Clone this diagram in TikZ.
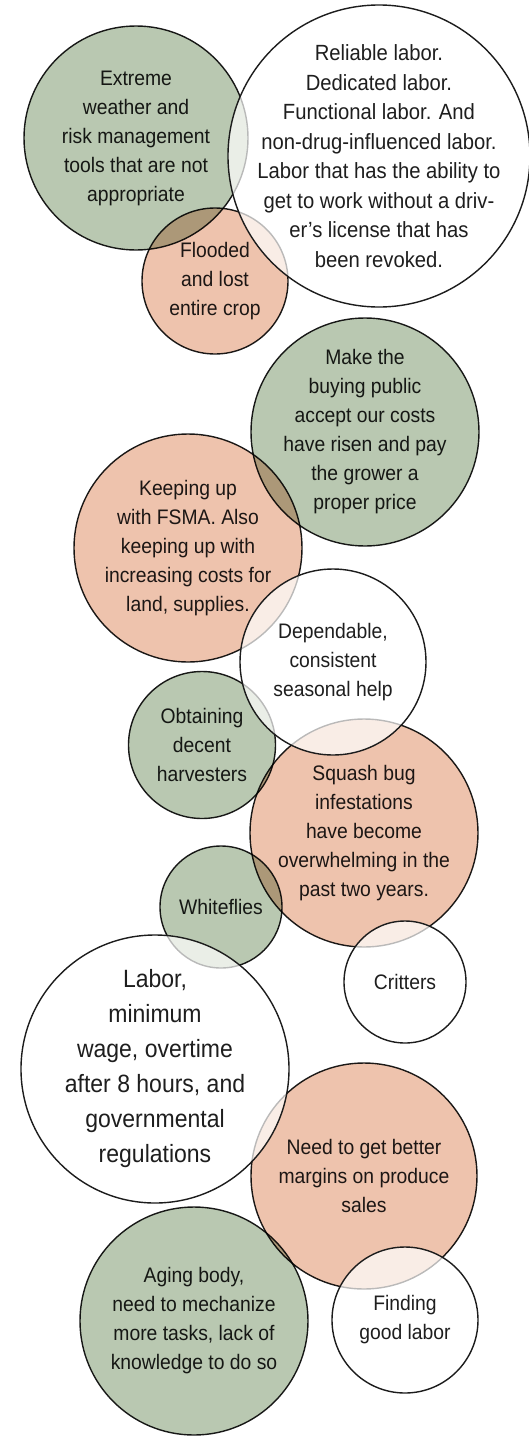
\documentclass[tikz,border=0pt]{standalone}
\usepackage{fontspec}
\setmainfont{Liberation Sans}[FakeStretch=0.92]
\usepackage{tikz}
\usetikzlibrary{positioning}
\definecolor{BubGreen}{HTML}{B9C8B1}
\definecolor{BubPeach}{HTML}{EEC3AD}
\definecolor{BubLine}{HTML}{1C1C1C}
\definecolor{BubText}{HTML}{1E1E1E}
\tikzset{
  bubble/.style={circle,draw=BubLine,line width=1.4pt,inner sep=0pt,minimum size=#1},
  greenbub/.style={bubble=#1,fill=BubGreen},
  peachbub/.style={bubble=#1,fill=BubPeach},
  whitebub/.style={bubble=#1,fill=white,fill opacity=0.7},
  bubtext/.style={align=center,text=BubText,inner sep=0pt,font=\fontsize{21}{29}\selectfont},
  midtext/.style={bubtext,font=\fontsize{22}{29.5}\selectfont},
  bigtext/.style={bubtext,font=\fontsize{25}{35}\selectfont}
}

\begin{document}
\begin{tikzpicture}[x=1pt,y=-1pt]
\useasboundingbox (0,0) rectangle (529,1440);

% coloured bubbles, overlaps darken
\begin{scope}[blend mode=multiply]
\node[greenbub=224pt,label={[bubtext]center:{Extreme\\weather and\\risk management\\tools that are not\\appropriate}}] (weather) at (136,138) {};
\node[peachbub=146pt,label={[bubtext]center:{Flooded\\and lost\\entire crop}}] (flood) at (215,281) {};
\node[greenbub=228pt,label={[bubtext]center:{Make the\\buying public\\accept our costs\\have risen and pay\\the grower a\\proper price}}] (public) at (365,432) {};
\node[peachbub=228pt,label={[bubtext]center:{Keeping up\\with FSMA. Also\\keeping up with\\increasing costs for\\land, supplies.}}] (fsma) at (188,548) {};
\node[greenbub=147pt,label={[bubtext]center:{Obtaining\\decent\\harvesters}}] (harvest) at (202,745) {};
\node[peachbub=228pt,label={[bubtext]center:{Squash bug\\infestations\\have become\\overwhelming in the\\past two years.}}] (squash) at (364,833) {};
\node[greenbub=122pt,label={[bubtext]center:{Whiteflies}}] (flies) at (221,907) {};
\node[peachbub=226pt,label={[bubtext]center:{Need to get better\\margins on produce\\sales}}] (margin) at (364,1176) {};
\node[greenbub=228pt,label={[bubtext]center:{Aging body,\\need to mechanize\\more tasks, lack of\\knowledge to do so}}] (aging) at (194,1321) {};
\end{scope}

% white bubbles on top
\node[whitebub=302pt,label={[midtext]center:{Reliable labor.\\Dedicated labor.\\Functional labor. And\\non-drug-influenced labor.\\Labor that has the ability to\\get to work without a driv-\\er’s license that has\\been revoked.}}] (reliable) at (379,156) {};
\node[whitebub=186pt,label={[bubtext]center:{Dependable,\\consistent\\seasonal help}}] (season) at (333,662) {};
\node[whitebub=122pt,label={[bubtext]center:{Critters}}] (critters) at (405,982) {};
\node[whitebub=268pt,label={[bigtext]center:{Labor,\\minimum\\wage, overtime\\after 8 hours, and\\governmental\\regulations}}] (wage) at (155,1069) {};
\node[whitebub=146pt,label={[bubtext]center:{Finding\\good labor}}] (finding) at (405,1320) {};
\end{tikzpicture}
\end{document}
